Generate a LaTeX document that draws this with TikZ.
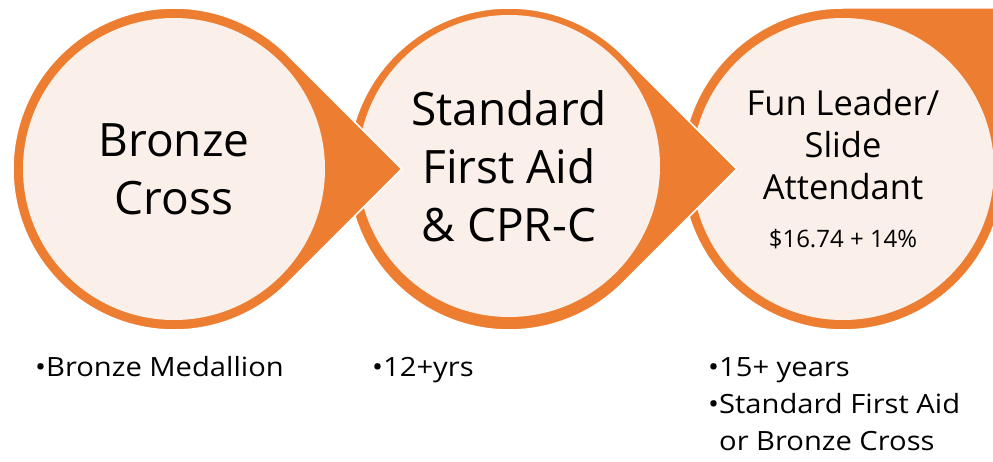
\documentclass[tikz,border=0pt]{standalone}
\usepackage{fontspec}
\setmainfont{Open Sans}
\newfontfamily\widefont[FakeStretch=1.1]{Open Sans}
\definecolor{orng}{RGB}{237,125,49}
\definecolor{pch}{RGB}{251,240,233}
\tikzstyle{tD}=[fill=orng,draw=white,line width=1.5pt]
\tikzstyle{dS}=[circle,fill=pch,minimum size = 302pt,inner sep = 0pt,align=center]
\tikzstyle{bS}=[anchor=base west,inner sep = 0pt,align=left,font=\widefont\fontsize{26.5}{37}\selectfont]

\begin{document}
\begin{tikzpicture}[x=1pt,y=1pt]
                \useasboundingbox (0,0) rectangle (993,461);
                \clip (0,0) rectangle (993,461);
                \coordinate (p0) at (174,292);
                \coordinate (p1) at (509,292);
                \coordinate (p2) at (843,292);
                % right one first, corner points up
                \draw[tD] (p2) ++(90:161) arc[start angle=90,end angle=360,radius=161] -- ++(0,161) -- cycle;
                \draw (p2) node[dS,font=\fontsize{34.5}{42}\selectfont] (n2) {Fun Leader/\\Slide\\Attendant\\[6pt]{\fontsize{24}{28}\selectfont\$16.74 + 14\%}};
                \draw[tD] (p1) ++(45:161) arc[start angle=45,end angle=315,radius=161] -- ++(45:161) -- cycle;
                \draw (p1) node[dS,font=\fontsize{46}{58}\selectfont,yshift=3pt] (n1) {Standard\\First Aid\\\& CPR-C};
                \draw[tD] (p0) ++(45:161) arc[start angle=45,end angle=315,radius=161] -- ++(45:161) -- cycle;
                \draw (p0) node[dS,font=\fontsize{46}{58}\selectfont] (n0) {Bronze\\Cross};
                % requirements under each step
                \draw (35,85) node[bS] (b0) {\textbullet Bronze Medallion};
                \draw (372,85) node[bS] (b1) {\textbullet 12+yrs};
                \draw (708,85) node[bS] (b2) {\textbullet 15+ years};
                \draw (708,11) node[bS] (b3) {\textbullet Standard First Aid\\\hphantom{\textbullet}or Bronze Cross};
        \end{tikzpicture}
\end{document}
